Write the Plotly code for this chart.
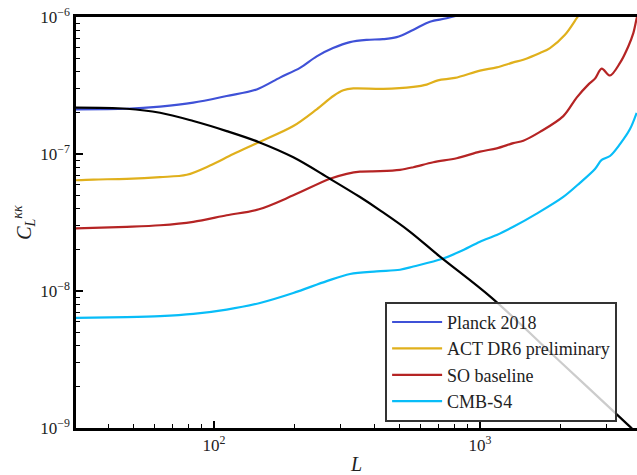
import plotly.graph_objects as go

# Lensing convergence power spectrum and noise curves (multipole L vs C_L^kk)
L_theory = [30, 47.0, 62.7, 83.6, 111.6, 147.6, 198.7, 272.9, 353.9, 420.9, 540, 707.3, 1107, 1999, 3610, 3995]
C_theory = [2.18e-7, 2.14e-7, 2.0e-7, 1.74e-7, 1.47e-7, 1.22e-7, 9.46e-8, 6.59e-8, 4.85e-8,
            3.88e-8, 2.75e-8, 1.78e-8, 8.90e-9, 3.06e-9, 1.05e-9, 8.7e-10]

L_planck = [30, 47.0, 62.7, 83.6, 111.6, 144.7, 177, 210.5, 243.3, 280.2, 324.6, 375.2, 431.8,
            486.2, 560.1, 648.6, 749.6, 917]
N_planck = [2.12e-7, 2.14e-7, 2.22e-7, 2.37e-7, 2.65e-7, 2.96e-7, 3.61e-7, 4.25e-7, 5.16e-7,
            5.93e-7, 6.56e-7, 6.81e-7, 6.89e-7, 7.13e-7, 8.05e-7, 9.24e-7, 9.79e-7, 1.09e-6]

L_act = [30, 35.2, 47.0, 62.7, 79.0, 96.6, 118.2, 147.6, 198.7, 243.3, 280.9, 306.3, 334, 433,
         561.5, 630.3, 695, 805, 1000, 1156, 1334, 1455, 1681, 1833, 2087, 2309, 2481]
N_act = [6.43e-8, 6.51e-8, 6.59e-8, 6.78e-8, 7.05e-8, 8.23e-8, 1.0e-7, 1.22e-7, 1.60e-7, 2.12e-7,
         2.65e-7, 2.92e-7, 3.01e-7, 2.99e-7, 3.09e-7, 3.21e-7, 3.45e-7, 3.59e-7, 4.06e-7, 4.29e-7,
         4.66e-7, 4.88e-7, 5.46e-7, 5.93e-7, 7.41e-7, 9.79e-7, 1.22e-6]

L_so = [30, 47.0, 62.7, 83.6, 111.6, 147.6, 198.7, 272.9, 315.4, 353.9, 420.9, 500.3, 561.5,
        667.4, 817.4, 1000, 1156, 1334, 1455, 1681, 2057, 2309, 2553, 2706, 2868, 3082, 3360,
        3610, 3771, 3882, 3995]
N_so = [2.86e-8, 2.94e-8, 3.02e-8, 3.20e-8, 3.57e-8, 3.95e-8, 4.99e-8, 6.59e-8, 7.16e-8, 7.44e-8,
        7.49e-8, 7.66e-8, 8.01e-8, 8.71e-8, 9.31e-8, 1.04e-7, 1.10e-7, 1.20e-7, 1.25e-7, 1.45e-7,
        1.89e-7, 2.58e-7, 3.21e-7, 3.55e-7, 4.20e-7, 3.74e-7, 4.62e-7, 6.09e-7, 7.62e-7, 9.79e-7,
        1.22e-6]

L_s4 = [30, 47.0, 62.7, 83.6, 111.6, 148.9, 198.7, 265.3, 324.6, 409.0, 500.3, 561.5, 717.8, 841,
        1000, 1156, 1334, 1634, 2057, 2376, 2706, 2868, 3082, 3360, 3664, 3882]
N_s4 = [6.37e-9, 6.45e-9, 6.56e-9, 6.81e-9, 7.32e-9, 8.18e-9, 9.67e-9, 1.18e-8, 1.33e-8, 1.39e-8,
        1.43e-8, 1.51e-8, 1.71e-8, 1.94e-8, 2.29e-8, 2.56e-8, 2.94e-8, 3.67e-8, 4.86e-8, 6.16e-8,
        7.78e-8, 9.05e-8, 9.67e-8, 1.18e-7, 1.52e-7, 2.00e-7]

series = [
    ("Planck 2018", L_planck, N_planck, "#3f51d7"),
    ("ACT DR6 preliminary", L_act, N_act, "#e0b01c"),
    ("SO baseline", L_so, N_so, "#b52424"),
    ("CMB-S4", L_s4, N_s4, "#08bdf8"),
]

SERIF = "Liberation Serif, Times New Roman, serif"

fig = go.Figure()
for name, lx, ly, col in series:
    fig.add_trace(go.Scatter(x=lx, y=ly, mode="lines", name=name,
                             line=dict(color=col, width=2.2, shape="spline", smoothing=0.9)))
fig.add_trace(go.Scatter(x=L_theory, y=C_theory, mode="lines", showlegend=False,
                         line=dict(color="black", width=2.2, shape="spline", smoothing=1.0)))

x_minor = [40, 50, 60, 70, 80, 90, 200, 300, 400, 500, 600, 700, 800, 900, 2000, 3000]
y_minor = [m * 10.0 ** e for e in (-9, -8, -7) for m in range(2, 10)]

fig.update_xaxes(
    type="log", range=[1.4812, 3.5903],
    tickvals=[100, 1000], ticktext=["10<sup>2</sup>", "10<sup>3</sup>"],
    ticks="inside", ticklen=7, tickwidth=1.5, tickcolor="black",
    minor=dict(tickvals=x_minor, ticks="inside", ticklen=4, tickwidth=1.2, tickcolor="black", showgrid=False),
    showline=True, linecolor="black", linewidth=2.5, mirror=True,
    showgrid=False, zeroline=False,
    tickfont=dict(family=SERIF, size=17, color="#222"),
    title=dict(text="<i>L</i>", font=dict(family=SERIF, size=20, color="#222"), standoff=6),
)
fig.update_yaxes(
    type="log", range=[-9, -6],
    tickvals=[1e-9, 1e-8, 1e-7, 1e-6],
    ticktext=["10<sup>−9</sup>", "10<sup>−8</sup>", "10<sup>−7</sup>", "10<sup>−6</sup>"],
    ticks="inside", ticklen=7, tickwidth=1.5, tickcolor="black",
    minor=dict(tickvals=y_minor, ticks="inside", ticklen=4, tickwidth=1.2, tickcolor="black", showgrid=False),
    showline=True, linecolor="black", linewidth=2.5,
    showgrid=False, zeroline=False,
    tickfont=dict(family=SERIF, size=17, color="#222"),
    title=dict(text="<i>C</i><sub><i>L</i></sub><sup><i>κκ</i></sup>",
               font=dict(family=SERIF, size=20, color="#222"), standoff=4),
)

fig.update_layout(
    width=637, height=475,
    margin=dict(l=76, r=0, t=17, b=44),
    paper_bgcolor="white", plot_bgcolor="white",
    legend=dict(
        x=0.551, y=0.307, xanchor="left", yanchor="top",
        bgcolor="rgba(255,255,255,0.8)", bordercolor="#333", borderwidth=2,
        font=dict(family=SERIF, size=18, color="#222"),
        tracegroupgap=0, itemwidth=50,
    ),
)

fig.write_html("out.html")
